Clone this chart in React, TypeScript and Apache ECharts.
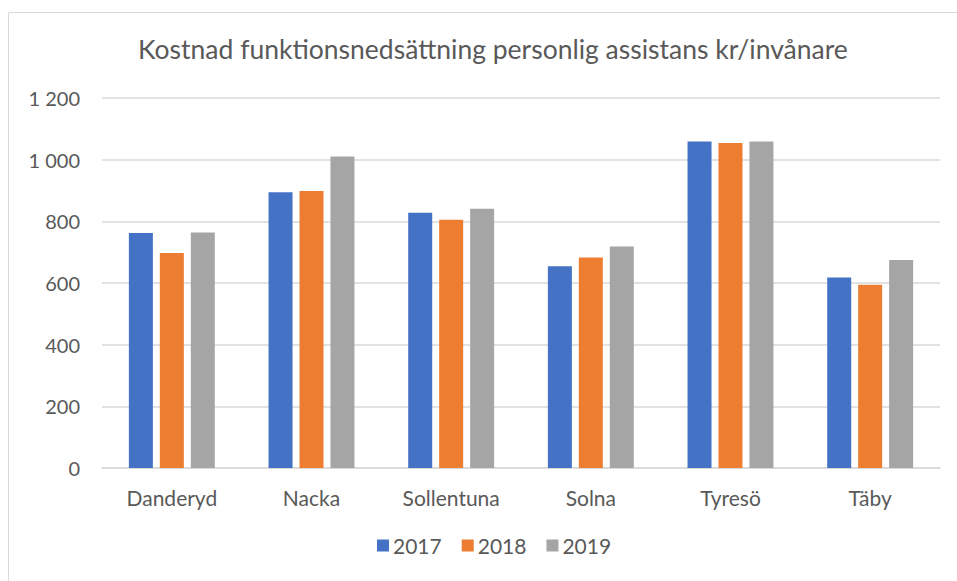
import React, { useEffect, useRef } from "react";
import * as echarts from "echarts";

const categories = ["Danderyd", "Nacka", "Sollentuna", "Solna", "Tyresö", "Täby"];
const seriesNames = ["2017", "2018", "2019"];
const values2017 = [762, 894, 828, 654, 1059, 618];
const values2018 = [697, 898, 805, 683, 1054, 594];
const values2019 = [764, 1010, 841, 718, 1059, 675];
const colors = ["#4472C4", "#ED7D31", "#A5A5A5"];
const titleText = "Kostnad funktionsnedsättning personlig assistans kr/invånare";

const FONT = "Lato, 'Open Sans', sans-serif";

export default function App() {
  const ref = useRef<HTMLDivElement>(null);
  useEffect(() => {
    document.body.style.margin = "0";
    const chart = echarts.init(ref.current!, null, { renderer: "svg" });
    const data = [values2017, values2018, values2019];
    chart.setOption({
      animation: false,
      backgroundColor: "#ffffff",
      textStyle: { fontFamily: FONT },
      title: {
        text: titleText,
        left: 133,
        top: 30,
        textStyle: { fontFamily: FONT, fontSize: 26.5, fontWeight: "normal", color: "#595959" },
      },
      graphic: [
        {
          type: "rect",
          shape: { x: 8.5, y: 12.5, width: 960, height: 600 },
          style: { fill: "none", stroke: "#d9d9d9", lineWidth: 1 },
          silent: true,
        },
      ],
      legend: {
        data: seriesNames,
        bottom: 20,
        left: 372,
        itemWidth: 12,
        itemHeight: 12,
        itemGap: 20,
        icon: "rect",
        textStyle: { fontFamily: FONT, fontSize: 21, color: "#595959", padding: [0, 0, 0, -1] },
      },
      grid: { left: 102, right: 17, top: 98, bottom: 113, containLabel: false },
      xAxis: {
        type: "category",
        data: categories,
        axisLine: { lineStyle: { color: "#d9d9d9", width: 1.5 } },
        axisTick: { show: false },
        axisLabel: { fontFamily: FONT, fontSize: 21, color: "#595959", margin: 19 },
      },
      yAxis: {
        type: "value",
        min: 0,
        max: 1200,
        interval: 200,
        axisLine: { show: false },
        axisTick: { show: false },
        splitLine: { lineStyle: { color: "#d9d9d9", width: 1.5 } },
        axisLabel: {
          fontFamily: FONT,
          fontSize: 20,
          color: "#595959",
          margin: 22,
          formatter: (v: number) => String(v).replace(/\B(?=(\d{3})+(?!\d))/g, " "),
        },
      },
      series: seriesNames.map((name, i) => ({
        name,
        type: "bar",
        data: data[i],
        barWidth: 24,
        barGap: "29%",
        itemStyle: { color: colors[i] },
      })),
    });
    return () => chart.dispose();
  }, []);
  return <div ref={ref} style={{ width: 957, height: 581 }} />;
}
